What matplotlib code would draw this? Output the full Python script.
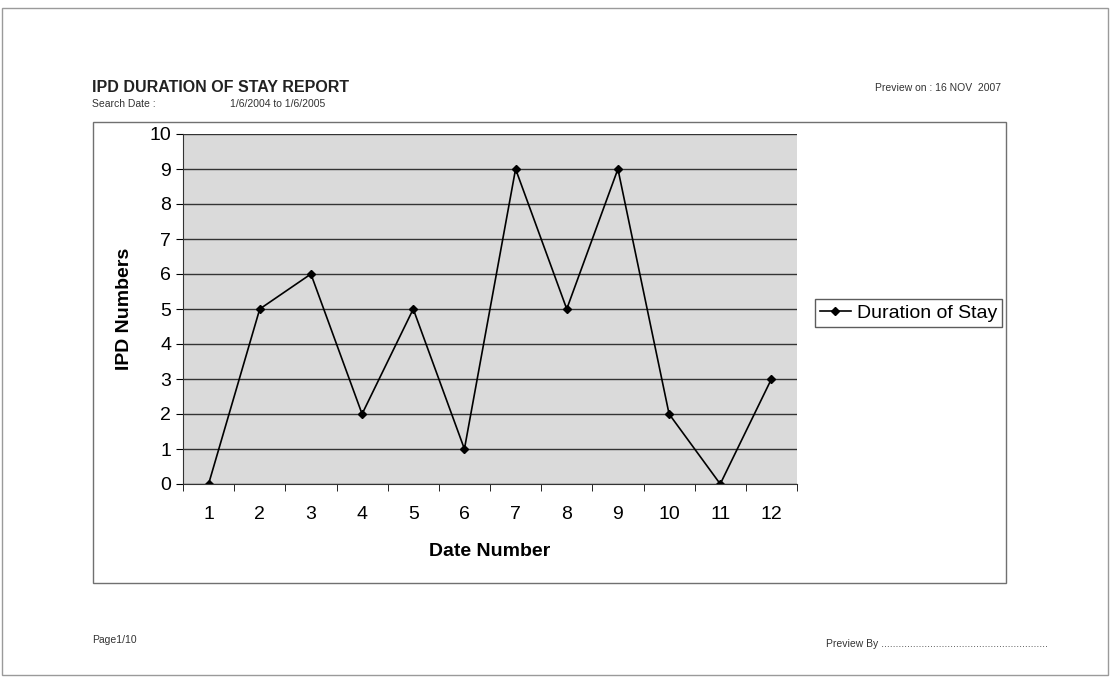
import matplotlib.pyplot as plt
from matplotlib.patches import Rectangle

dates = [1, 2, 3, 4, 5, 6, 7, 8, 9, 10, 11, 12]
stay = [0, 5, 6, 2, 5, 1, 9, 5, 9, 2, 0, 3]
yticks = [0, 1, 2, 3, 4, 5, 6, 7, 8, 9, 10]

W, H = 1112, 677
fig = plt.figure(figsize=(W / 100, H / 100), dpi=100)
plt.rcParams['font.family'] = ['Liberation Sans', 'DejaVu Sans']

# page frame and chart frame, in pixel units converted to figure fraction
def box(x0, y0, x1, y1, **kw):
    fig.patches.append(Rectangle((x0 / W, 1 - y1 / H), (x1 - x0) / W, (y1 - y0) / H,
                                 transform=fig.transFigure, fill=False, **kw))

box(2, 8, 1108, 675, edgecolor='#9a9a9a', linewidth=1.0)
box(93, 122, 1006, 583, edgecolor='#707070', linewidth=1.0)

ax = fig.add_axes([183 / W, 1 - 484 / H, (797 - 183) / W, (484 - 134) / H])
ax.set_facecolor('#dadada')
ax.plot(dates, stay, color='black', linewidth=1.2, marker='D', markersize=4,
        label='Duration of Stay')
ax.set_xlim(0.5, 12.5)
ax.set_ylim(0, 10)
ax.set_yticks(yticks)
ax.set_xticks(dates)
ax.set_xticks([d + 0.5 for d in [0] + dates], minor=True)
ax.tick_params(axis='x', which='major', length=0, pad=16, labelsize=14)
ax.tick_params(axis='x', which='minor', length=5, direction='out')
ax.tick_params(axis='y', length=5, direction='out', labelsize=14)
ax.grid(axis='y', color='#333333', linewidth=1.0)
ax.set_axisbelow(True)
for s in ['top', 'right']:
    ax.spines[s].set_visible(False)
ax.spines['left'].set_color('#333333')
ax.spines['bottom'].set_color('#333333')
ax.set_xlabel('Date Number', fontsize=14, fontweight='bold', labelpad=14)
ax.set_ylabel('IPD Numbers', fontsize=14, fontweight='bold', labelpad=12)

fig.legend(loc='center left', bbox_to_anchor=(805 / W, 1 - 313 / H), fontsize=14,
           frameon=True, fancybox=False, edgecolor='#333333', borderpad=0.25,
           handlelength=1.6, handletextpad=0.3)

fig.text(92 / W, 1 - 88 / H, 'IPD DURATION OF STAY REPORT', fontsize=11.5,
         fontweight='bold', va='center', color='#222222')
fig.text(92 / W, 1 - 104 / H, 'Search Date :', fontsize=7.5, va='center', color='#333333')
fig.text(230 / W, 1 - 104 / H, '1/6/2004 to 1/6/2005', fontsize=7.5, va='center', color='#333333')
fig.text(875 / W, 1 - 88 / H, 'Preview on : 16 NOV  2007', fontsize=7.5, va='center', color='#333333')
fig.text(92 / W, 1 - 640 / H, 'Page1/10', fontsize=7.5, va='center', color='#333333')
fig.text(826 / W, 1 - 644 / H, 'Preview By ' + '.' * 58, fontsize=7.5, va='center', color='#333333')

fig.savefig('out.png', dpi=100)
